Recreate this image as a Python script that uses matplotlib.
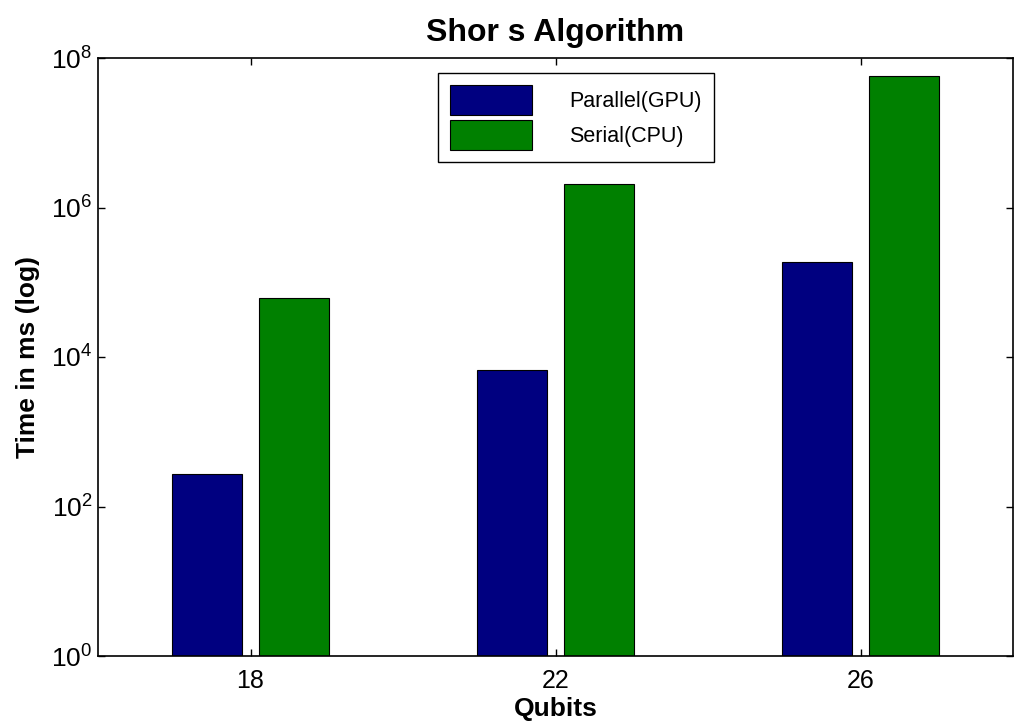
import numpy as np
import matplotlib
matplotlib.use("Agg")
from matplotlib import pyplot as plt
from matplotlib.axes import Axes
from matplotlib.figure import Figure

qubits = [18, 22, 26]
gpu_time_ms = [272, 6700, 1.87e5]
cpu_time_ms = [6.15e4, 2.06e6, 5.74e7]
series_labels = ["Parallel(GPU)", "Serial(CPU)"]
y_ticks = [1e0, 1e2, 1e4, 1e6, 1e8]

plt.rcParams["font.family"] = ["Liberation Sans", "DejaVu Sans"]
plt.rcParams["mathtext.fontset"] = "custom"
plt.rcParams["mathtext.rm"] = "Liberation Sans"
plt.rcParams["mathtext.it"] = "Liberation Sans"
plt.rcParams["mathtext.bf"] = "Liberation Sans:bold"


def create_plot():
    fig: Figure = plt.figure(figsize=(10.15, 7.22), dpi=100)
    ax: Axes = fig.add_axes([98 / 1015, 66 / 722, 915 / 1015, 598 / 722])

    x = np.array(qubits, dtype=float)
    offset = 0.573
    width = 0.925
    ax.bar(x - offset, gpu_time_ms, width=width, color="#000080",
           edgecolor="black", linewidth=0.8, label=series_labels[0])
    ax.bar(x + offset, cpu_time_ms, width=width, color="#008000",
           edgecolor="black", linewidth=0.8, label=series_labels[1])

    ax.set_yscale("log")
    ax.set_ylim(1, 1e8)
    ax.set_xlim(16, 28)
    ax.set_xticks(qubits)
    ax.set_xticklabels([str(q) for q in qubits])
    ax.set_yticks(y_ticks)
    ax.yaxis.set_minor_locator(matplotlib.ticker.NullLocator())

    ax.tick_params(axis="both", which="major", direction="in", length=5,
                   width=1, labelsize=18, top=True, right=True)
    ax.tick_params(axis="x", pad=9)
    ax.tick_params(axis="y", pad=4, labelsize=19)
    for spine in ax.spines.values():
        spine.set_linewidth(1.2)

    ax.set_title("Shor s Algorithm", fontsize=23, fontweight="bold", pad=12)
    ax.set_xlabel("Qubits", fontsize=19, fontweight="bold", labelpad=3)
    ax.set_ylabel("Time in ms (log)", fontsize=19, fontweight="bold", labelpad=8)

    leg = ax.legend(loc="upper left", bbox_to_anchor=(438 / 1015, 1 - 73 / 722),
                    bbox_transform=fig.transFigure, fontsize=15.5,
                    handlelength=3.8, handleheight=1.75, handletextpad=1.75,
                    labelspacing=0.25, borderpad=0.55, fancybox=False,
                    framealpha=1, edgecolor="black", borderaxespad=0)
    leg.get_frame().set_linewidth(1.0)

    fig.savefig("out.png", dpi=100)


create_plot()
